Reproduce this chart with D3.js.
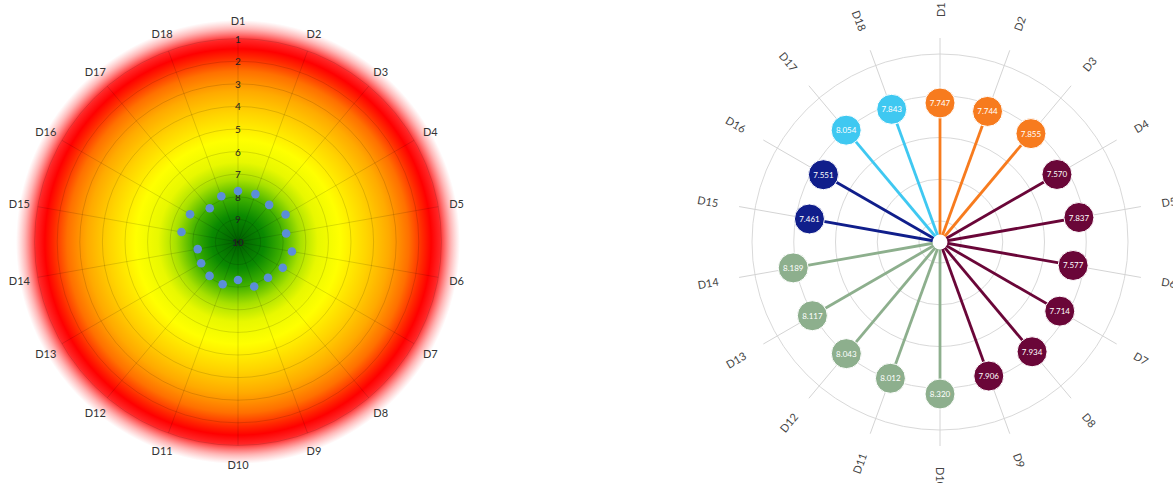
<!DOCTYPE html>
<html>
<head>
<meta charset="utf-8">
<script src="https://cdn.jsdelivr.net/npm/d3@7"></script>
<style>
  body { margin: 0; background: #fff; }
  svg { display: block; font-family: Lato, "Open Sans", sans-serif; }
</style>
</head>
<body>
<svg id="chart" width="1173" height="483"></svg>
<script>
// --- data ---
const dims = ["D1", "D2", "D3", "D4", "D5", "D6", "D7", "D8", "D9",
  "D10", "D11", "D12", "D13", "D14", "D15", "D16", "D17", "D18"];
const scores = [7.747, 7.744, 7.855, 7.570, 7.837, 7.577, 7.714, 7.934, 7.906,
  8.320, 8.012, 8.043, 8.117, 8.189, 7.461, 7.551, 8.054, 7.843];
const groups = ["a", "a", "a", "b", "b", "b", "b", "b", "b",
  "c", "c", "c", "c", "c", "d", "d", "e", "e"];
const levelTicks = [1, 2, 3, 4, 5, 6, 7, 8, 9, 10];
const ringTicks = [0, 1, 2, 3, 4];

const groupColors = {
  a: "#f77b1e",
  b: "#6a0638",
  c: "#8daf8d",
  d: "#101e8b",
  e: "#3fc8f1"
};

const svg = d3.select("#chart");
const angle = d3.scaleBand().domain(dims).range([0, 2 * Math.PI]);
const px = (a, r) => r * Math.sin(a);
const py = (a, r) => -r * Math.cos(a);

// --- left: radar with gradient ---
const left = svg.append("g").attr("transform", "translate(238,242)");
const rL = d3.scaleLinear().domain([10, 0]).range([0, 226]);

const defs = svg.append("defs");
const grad = defs.append("radialGradient").attr("id", "heat")
  .attr("cx", "50%").attr("cy", "50%").attr("r", "50%");
const stops = [
  [0, "#005e00", 1], [0.12, "#0a8a00", 1], [0.2, "#3fb000", 1],
  [0.28, "#a6e000", 1], [0.36, "#e8f800", 1], [0.46, "#ffff00", 1],
  [0.58, "#ffd400", 1], [0.68, "#ffaa00", 1], [0.77, "#ff7000", 1],
  [0.83, "#ff2a00", 1], [0.87, "#ff0000", 1], [0.91, "#ff0000", 0.85],
  [0.96, "#ff3030", 0.35], [1, "#ff5050", 0]
];
stops.forEach(s => grad.append("stop")
  .attr("offset", s[0]).attr("stop-color", s[1]).attr("stop-opacity", s[2]));

left.append("circle").attr("r", 222).attr("fill", "url(#heat)");

left.selectAll(".lvl").data(levelTicks.filter(t => t < 10)).enter()
  .append("circle")
  .attr("r", d => rL(d))
  .attr("fill", "none")
  .attr("stroke", "rgba(0,0,0,0.13)");

left.selectAll(".spoke").data(dims).enter().append("line")
  .attr("x1", 0).attr("y1", 0)
  .attr("x2", d => px(angle(d), rL(1)))
  .attr("y2", d => py(angle(d), rL(1)))
  .attr("stroke", "rgba(0,0,0,0.13)");

left.selectAll(".tick").data(levelTicks).enter().append("text")
  .attr("x", 0).attr("y", d => -rL(d))
  .attr("text-anchor", "middle")
  .attr("dominant-baseline", "central")
  .attr("font-size", 10)
  .attr("font-weight", d => d === 10 ? "bold" : "normal")
  .attr("fill", "#222")
  .text(d => d);

left.selectAll(".lab").data(dims).enter().append("text")
  .attr("x", d => px(angle(d), 222))
  .attr("y", d => py(angle(d), 222))
  .attr("text-anchor", "middle")
  .attr("dominant-baseline", "central")
  .attr("font-size", 11)
  .attr("fill", "#333")
  .text(d => d);

left.selectAll(".dot").data(scores).enter().append("circle")
  .attr("cx", (d, i) => px(angle(dims[i]), rL(d)))
  .attr("cy", (d, i) => py(angle(dims[i]), rL(d)))
  .attr("r", 4.3)
  .attr("fill", "#5b8ed8");

// --- right: radial lollipop ---
const right = svg.append("g").attr("transform", "translate(940,242)");
const rR = d3.scaleLinear().domain([1.6, 10]).range([0, 190]);
const rRing = d3.scaleLinear().domain([0, 4]).range([21, 188]);

right.selectAll(".ring").data(ringTicks).enter().append("circle")
  .attr("r", d => rRing(d))
  .attr("fill", "none")
  .attr("stroke", "#d9d9d9");

right.selectAll(".spoke").data(dims).enter().append("line")
  .attr("x1", 0).attr("y1", 0)
  .attr("x2", d => px(angle(d), 204))
  .attr("y2", d => py(angle(d), 204))
  .attr("stroke", "#d4d4d4");

right.selectAll(".lab").data(dims).enter().append("text")
  .attr("transform", d => {
    const a = angle(d);
    const deg = a * 180 / Math.PI - 90;
    const flip = a > Math.PI + 0.01;
    return `translate(${px(a, 225)},${py(a, 225)}) rotate(${flip ? deg - 180 : deg})`;
  })
  .attr("text-anchor", d => angle(d) > Math.PI + 0.01 ? "end" : "start")
  .attr("dominant-baseline", "central")
  .attr("font-size", 11)
  .attr("fill", "#444")
  .text(d => d);

right.selectAll(".stem").data(scores).enter().append("line")
  .attr("x1", 0).attr("y1", 0)
  .attr("x2", (d, i) => px(angle(dims[i]), rR(d)))
  .attr("y2", (d, i) => py(angle(dims[i]), rR(d)))
  .attr("stroke", (d, i) => groupColors[groups[i]])
  .attr("stroke-width", 2.8);

right.append("circle").attr("r", 7.5).attr("fill", "#fff");

right.selectAll(".head").data(scores).enter().append("circle")
  .attr("cx", (d, i) => px(angle(dims[i]), rR(d)))
  .attr("cy", (d, i) => py(angle(dims[i]), rR(d)))
  .attr("r", 15)
  .attr("fill", (d, i) => groupColors[groups[i]])
  .attr("stroke", "#fff")
  .attr("stroke-width", 1);

right.selectAll(".val").data(scores).enter().append("text")
  .attr("x", (d, i) => px(angle(dims[i]), rR(d)))
  .attr("y", (d, i) => py(angle(dims[i]), rR(d)))
  .attr("text-anchor", "middle")
  .attr("dominant-baseline", "central")
  .attr("font-size", 8)
  .attr("fill", "#fff")
  .text(d => d.toFixed(3));
</script>
</body>
</html>
